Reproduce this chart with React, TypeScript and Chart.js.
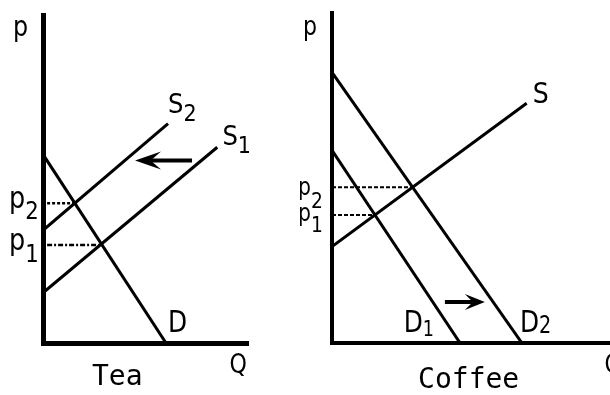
import React, { useEffect, useRef } from "react";
import { Chart, registerables } from "chart.js";
Chart.register(...registerables);

// ---------- Tea panel (quantity, price) ----------
const teaDemandQ = [0, 6];
const teaDemandP = [9.2, 0];
const teaSupply1Q = [0, 8.5];
const teaSupply1P = [2.45, 9.55];
const teaSupply2Q = [0, 6.1];
const teaSupply2P = [5.5, 10.7];
const teaPriceLevels = [6.82, 4.78]; // p2, p1
const teaEquilibriumQ = [1.55, 2.9]; // at p2, p1
const teaShiftArrowQ = [7.27, 4.49]; // tail, tip
const teaShiftArrowP = [8.9, 8.9];

// ---------- Coffee panel ----------
const coffeeDemand1Q = [0, 6.25];
const coffeeDemand1P = [9.4, 0];
const coffeeDemand2Q = [0, 9.27];
const coffeeDemand2P = [13.2, 0];
const coffeeSupplyQ = [0, 9.5];
const coffeeSupplyP = [4.7, 11.7];
const coffeePriceLevels = [7.6, 6.25]; // p2, p1
const coffeeEquilibriumQ = [3.93, 2.1];
const coffeeShiftArrowQ = [5.51, 7.46];
const coffeeShiftArrowP = [2.0, 2.0];

const SANS = '"DejaVu Sans"';
const MONO = '"DejaVu Sans Mono"';

type Label = {
  text: string;
  sub?: string;
  x: number;
  y: number;
  size: number;
  subSize?: number;
  subDy?: number;
  family?: string;
  sx?: number;
};
type Arrow = { q: number[]; p: number[]; headLen: number; headHalf: number };

const toPts = (q: number[], p: number[]) => q.map((v, i) => ({ x: v, y: p[i] }));

const line = (q: number[], p: number[], width = 3, dash: number[] = []) => ({
  type: "line" as const,
  data: toPts(q, p),
  borderColor: "#000",
  borderWidth: width,
  borderDash: dash,
  pointRadius: 0,
  showLine: true,
  fill: false,
  tension: 0,
  borderCapStyle: "butt" as const,
});

const econPlugin = {
  id: "econ",
  afterDraw(chart: any, _args: any, opts: any) {
    const { ctx, scales } = chart;
    const xs = scales.x;
    const ys = scales.y;
    ctx.save();
    ctx.fillStyle = "#000";
    ctx.strokeStyle = "#000";
    (opts.arrows || []).forEach((a: Arrow) => {
      const x0 = xs.getPixelForValue(a.q[0]);
      const y0 = ys.getPixelForValue(a.p[0]);
      const x1 = xs.getPixelForValue(a.q[1]);
      const y1 = ys.getPixelForValue(a.p[1]);
      const ang = Math.atan2(y1 - y0, x1 - x0);
      const ux = Math.cos(ang);
      const uy = Math.sin(ang);
      ctx.lineWidth = 4;
      ctx.beginPath();
      ctx.moveTo(x0, y0);
      ctx.lineTo(x1 - ux * a.headLen * 0.6, y1 - uy * a.headLen * 0.6);
      ctx.stroke();
      const bx = x1 - ux * a.headLen;
      const by = y1 - uy * a.headLen;
      const nx = x1 - ux * a.headLen * 0.6;
      const ny = y1 - uy * a.headLen * 0.6;
      ctx.beginPath();
      ctx.moveTo(x1, y1);
      ctx.lineTo(bx - uy * a.headHalf, by + ux * a.headHalf);
      ctx.lineTo(nx, ny);
      ctx.lineTo(bx + uy * a.headHalf, by - ux * a.headHalf);
      ctx.closePath();
      ctx.fill();
    });
    ctx.textAlign = "left";
    ctx.textBaseline = "alphabetic";
    (opts.labels || []).forEach((l: Label) => {
      const px = xs.getPixelForValue(l.x);
      const py = ys.getPixelForValue(l.y);
      const sx = l.sx || 1;
      ctx.save();
      ctx.translate(px, py);
      ctx.scale(sx, 1);
      ctx.font = `${l.size}px ${l.family || SANS}`;
      ctx.fillText(l.text, 0, 0);
      if (l.sub) {
        const w = ctx.measureText(l.text).width;
        ctx.font = `${l.subSize || 18}px ${l.family || SANS}`;
        ctx.fillText(l.sub, w, l.subDy ?? 8);
      }
      ctx.restore();
    });
    ctx.restore();
  },
};

function Panel(props: {
  left: number;
  width: number;
  padding: { left: number; right: number; top: number; bottom: number };
  xMax: number;
  yMax: number;
  axisWidth: number;
  datasets: any[];
  labels: Label[];
  arrows: Arrow[];
}) {
  const ref = useRef<HTMLCanvasElement | null>(null);
  useEffect(() => {
    if (!ref.current) return;
    const axis = (max: number) => ({
      type: "linear" as const,
      min: 0,
      max,
      display: true,
      grid: { display: false, drawTicks: false, tickLength: 0 },
      ticks: { display: false },
      border: { display: true, color: "#000", width: props.axisWidth },
    });
    const chart = new Chart(ref.current, {
      type: "scatter",
      data: { datasets: props.datasets },
      options: {
        animation: false,
        responsive: false,
        maintainAspectRatio: false,
        layout: { padding: props.padding },
        scales: { x: axis(props.xMax), y: axis(props.yMax) },
        plugins: {
          legend: { display: false },
          tooltip: { enabled: false },
          econ: { labels: props.labels, arrows: props.arrows },
        } as any,
      },
      plugins: [econPlugin],
    });
    return () => chart.destroy();
  }, []);
  return (
    <canvas
      ref={ref}
      width={props.width}
      height={395}
      style={{ position: "absolute", left: props.left, top: 0, width: props.width, height: 395 }}
    />
  );
}

export default function App() {
  const teaDatasets = [
    line(teaDemandQ, teaDemandP),
    line(teaSupply1Q, teaSupply1P),
    line(teaSupply2Q, teaSupply2P),
    line([0.2, teaEquilibriumQ[0]], [teaPriceLevels[0], teaPriceLevels[0]], 2.5, [3, 2]),
    line([0.2, teaEquilibriumQ[1]], [teaPriceLevels[1], teaPriceLevels[1]], 2.5, [5, 2, 2, 2]),
  ];
  const teaLabels: Label[] = [
    { text: "p", x: -1.46, y: 15.0, size: 28, sx: 0.85 },
    { text: "S", sub: "2", x: 6.1, y: 11.2, size: 27, subSize: 23, subDy: 8, sx: 0.9 },
    { text: "S", sub: "1", x: 8.75, y: 9.66, size: 27, subSize: 23, subDy: 8, sx: 0.9 },
    { text: "D", x: 6.1, y: 0.54, size: 31, sx: 0.8 },
    { text: "p", sub: "2", x: -1.66, y: 6.6, size: 30, subSize: 25, subDy: 11, sx: 0.85 },
    { text: "p", sub: "1", x: -1.66, y: 4.55, size: 30, subSize: 25, subDy: 12, sx: 0.85 },
    { text: "Q", x: 9.1, y: -1.46, size: 26, sx: 0.85 },
    { text: "Tea", x: 2.39, y: -2.05, size: 28, family: MONO, sx: 1 },
  ];
  const teaArrows: Arrow[] = [{ q: teaShiftArrowQ, p: teaShiftArrowP, headLen: 26, headHalf: 9 }];

  const coffeeDatasets = [
    line(coffeeDemand1Q, coffeeDemand1P),
    line(coffeeDemand2Q, coffeeDemand2P),
    line(coffeeSupplyQ, coffeeSupplyP),
    line([0, coffeeEquilibriumQ[0]], [coffeePriceLevels[0], coffeePriceLevels[0]], 2, [4, 2]),
    line([0, coffeeEquilibriumQ[1]], [coffeePriceLevels[1], coffeePriceLevels[1]], 2, [4, 2]),
  ];
  const coffeeLabels: Label[] = [
    { text: "p", x: -1.41, y: 15.05, size: 26, sx: 0.85 },
    { text: "S", x: 9.8, y: 11.71, size: 28, sx: 0.9 },
    { text: "D", sub: "1", x: 3.5, y: 0.54, size: 31, subSize: 22, subDy: 4, sx: 0.8 },
    { text: "D", sub: "2", x: 9.17, y: 0.54, size: 31, subSize: 24, subDy: 1, sx: 0.8 },
    { text: "p", sub: "2", x: -1.66, y: 7.2, size: 24, subSize: 22, subDy: 13, sx: 0.85 },
    { text: "p", sub: "1", x: -1.66, y: 5.95, size: 24, subSize: 22, subDy: 11, sx: 0.85 },
    { text: "Q", x: 13.3, y: -1.46, size: 26, sx: 0.85 },
    { text: "Coffee", x: 4.2, y: -2.2, size: 28, family: MONO },
  ];
  const coffeeArrows: Arrow[] = [{ q: coffeeShiftArrowQ, p: coffeeShiftArrowP, headLen: 20, headHalf: 8 }];

  return (
    <div
      style={{
        position: "absolute",
        left: 0,
        top: 0,
        width: 610,
        height: 395,
        overflow: "hidden",
        background: "#fff",
      }}
    >
      <Panel
        left={0}
        width={300}
        padding={{ left: 43, right: 52, top: 15, bottom: 52 }}
        xMax={10}
        yMax={16}
        axisWidth={5}
        datasets={teaDatasets}
        labels={teaLabels}
        arrows={teaArrows}
      />
      <Panel
        left={300}
        width={330}
        padding={{ left: 32, right: 5, top: 13, bottom: 52 }}
        xMax={14.3}
        yMax={16.1}
        axisWidth={4}
        datasets={coffeeDatasets}
        labels={coffeeLabels}
        arrows={coffeeArrows}
      />
    </div>
  );
}
